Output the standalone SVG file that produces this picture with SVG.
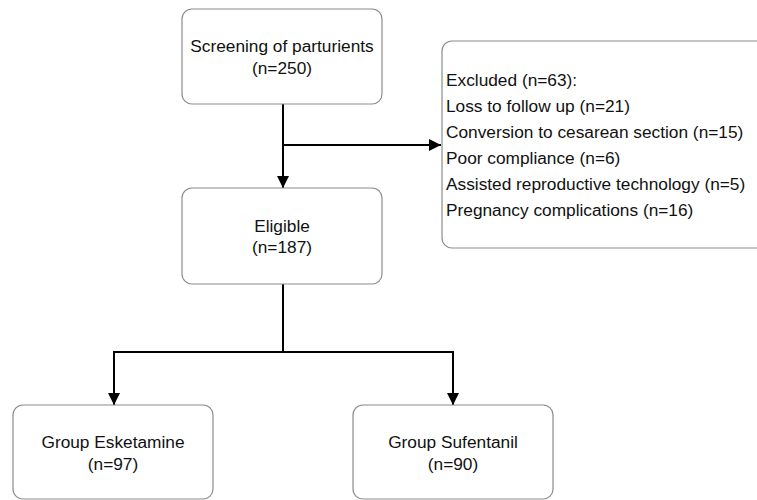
<svg xmlns="http://www.w3.org/2000/svg" width="757" height="500" viewBox="0 0 757 500">
<defs>
<style>
.box{fill:#ffffff;stroke:#8c8c8c;stroke-width:1.2}
.t{font-family:"Liberation Sans",Arial,sans-serif;font-size:17.3px;fill:#111}
.c{text-anchor:middle}
.ln{fill:none;stroke:#000;stroke-width:2}
</style>
<marker id="ah" viewBox="0 0 12 12" refX="12" refY="6" markerWidth="12" markerHeight="12" markerUnits="userSpaceOnUse" orient="auto">
<path d="M0,0 L12,6 L0,12 Z" fill="#000"/>
</marker>
</defs>
<rect width="757" height="500" fill="#ffffff"/>
<g id="connectors">
<path class="ln" d="M283,104 L283,188" marker-end="url(#ah)"/>
<path class="ln" d="M283,145 L441,145" marker-end="url(#ah)"/>
<path class="ln" d="M283,284 L283,352 L114,352 L114,405" marker-end="url(#ah)"/>
<path class="ln" d="M283,352 L453,352 L453,405" marker-end="url(#ah)"/>
</g>
<g id="screening">
<rect class="box" x="182" y="9" width="200" height="95" rx="10"/>
<text class="t c" x="282" y="52">Screening of parturients</text>
<text class="t c" x="282" y="74">(n=250)</text>
</g>
<g id="excluded">
<rect class="box" x="442" y="41" width="340" height="207" rx="10"/>
<text class="t" x="446" y="86">Excluded (n=63):</text>
<text class="t" x="446" y="112">Loss to follow up (n=21)</text>
<text class="t" x="446" y="138">Conversion to cesarean section (n=15)</text>
<text class="t" x="446" y="164">Poor compliance (n=6)</text>
<text class="t" x="446" y="190">Assisted reproductive technology (n=5)</text>
<text class="t" x="446" y="216">Pregnancy complications (n=16)</text>
</g>
<g id="eligible">
<rect class="box" x="182" y="188" width="200" height="96" rx="10"/>
<text class="t c" x="282" y="232">Eligible</text>
<text class="t c" x="282" y="253">(n=187)</text>
</g>
<g id="esketamine">
<rect class="box" x="13" y="405" width="200" height="94" rx="10"/>
<text class="t c" x="113" y="448">Group Esketamine</text>
<text class="t c" x="113" y="470">(n=97)</text>
</g>
<g id="sufentanil">
<rect class="box" x="353" y="405" width="200" height="94" rx="10"/>
<text class="t c" x="453" y="448">Group Sufentanil</text>
<text class="t c" x="453" y="470">(n=90)</text>
</g>
</svg>
